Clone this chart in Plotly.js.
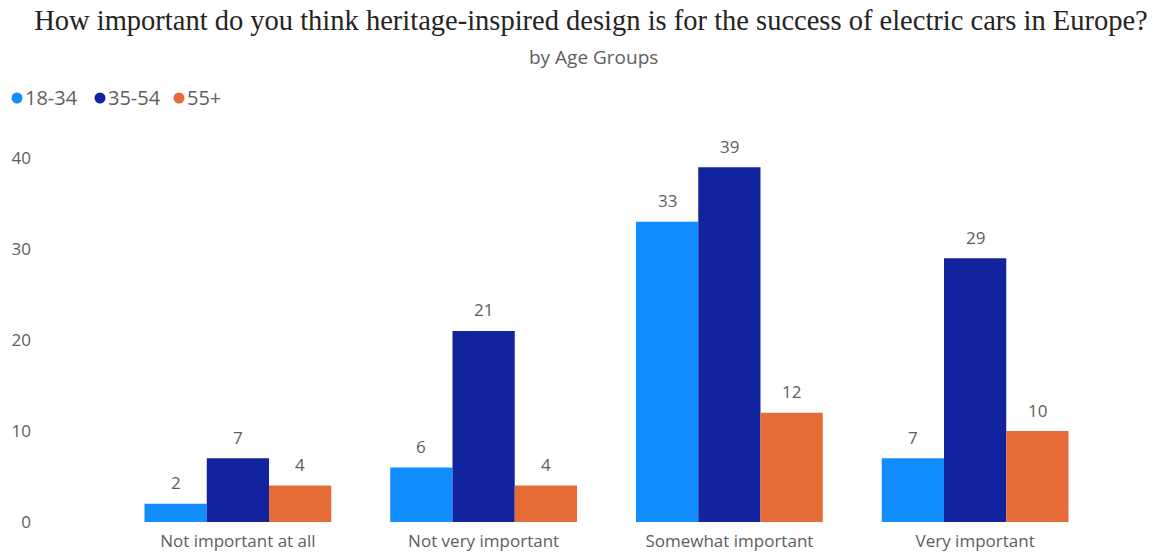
<!DOCTYPE html>
<html>
<head>
<meta charset="utf-8">
<script src="https://cdn.plot.ly/plotly-3.0.1.min.js"></script>
<style>html,body{margin:0;padding:0;background:#fff;}#chart{width:1155px;height:556px;}</style>
</head>
<body>
<div id="chart"></div>
<script>
const categories = ["Not important at all", "Not very important", "Somewhat important", "Very important"];
const seriesNames = ["18-34", "35-54", "55+"];
const values18_34 = [2, 6, 33, 7];
const values35_54 = [7, 21, 39, 29];
const values55plus = [4, 4, 12, 10];
const yTicks = [0, 10, 20, 30, 40];
const colors = ["#118DFF", "#12239E", "#E66C37"];

const allValues = [values18_34, values35_54, values55plus];

// layout geometry (pixels)
const W = 1155, H = 556;
const M = {l: 115, r: 57, t: 149, b: 34};
const plotW = W - M.l - M.r, plotH = H - M.t - M.b;
const bargap = 0.24;
const barPx = plotW / categories.length * (1 - bargap) / allValues.length;
const pxToPaperX = px => (px - M.l) / plotW;
const pxToPaperY = py => (H - M.b - py) / plotH;

const sans = "Open Sans, Noto Sans, sans-serif";
const grey = "#605E5C";

const traces = allValues.map((vals, i) => ({
  type: "bar",
  name: seriesNames[i],
  x: categories,
  y: vals,
  marker: {color: colors[i]},
  showlegend: false,
  hoverinfo: "x+y+name"
}));

const annotations = [];
// data labels above bars
allValues.forEach((vals, i) => {
  vals.forEach((v, j) => {
    annotations.push({
      x: categories[j], y: v, xref: "x", yref: "y",
      text: String(v), showarrow: false,
      xshift: (i - (allValues.length - 1) / 2) * barPx,
      yshift: 21, xanchor: "center", yanchor: "middle",
      font: {family: sans, size: 17, color: grey}
    });
  });
});
// subtitle
annotations.push({
  text: "by Age Groups",
  xref: "paper", yref: "paper",
  x: pxToPaperX(593.5), y: pxToPaperY(57),
  xanchor: "center", yanchor: "middle",
  showarrow: false,
  font: {family: sans, size: 19, color: grey}
});

// custom legend: circles + text
const legendCirclesX = [17, 100, 179];
const legendTextX = [23, 106, 185];
const legendY = 98;
const shapes = [];
seriesNames.forEach((n, i) => {
  shapes.push({
    type: "circle", xref: "paper", yref: "paper",
    xsizemode: "pixel", ysizemode: "pixel",
    xanchor: pxToPaperX(legendCirclesX[i]), yanchor: pxToPaperY(legendY),
    x0: -5.5, x1: 5.5, y0: -5.5, y1: 5.5,
    fillcolor: colors[i], line: {width: 0}
  });
  annotations.push({
    text: n, xref: "paper", yref: "paper",
    x: pxToPaperX(legendTextX[i]), y: pxToPaperY(legendY),
    xanchor: "left", yanchor: "middle", showarrow: false,
    font: {family: sans, size: 20, color: grey}
  });
});

const layout = {
  width: W,
  height: H,
  paper_bgcolor: "#ffffff",
  plot_bgcolor: "#ffffff",
  margin: M,
  barmode: "group",
  bargap: bargap,
  bargroupgap: 0,
  title: {
    text: "How important do you think heritage-inspired design is for the success of electric cars in Europe?",
    font: {family: "Liberation Serif, Times New Roman, serif", size: 28.5, color: "#252423"},
    xref: "container", yref: "container",
    x: 591 / W, xanchor: "center",
    y: 1 - 20 / H, yanchor: "middle"
  },
  annotations: annotations,
  shapes: shapes,
  showlegend: false,
  xaxis: {
    type: "category",
    tickfont: {family: sans, size: 17, color: grey},
    showgrid: false,
    zeroline: false,
    showline: false,
    ticks: "",
    ticklabelstandoff: 7,
    fixedrange: true
  },
  yaxis: {
    range: [0, 41],
    tickvals: yTicks,
    ticktext: yTicks.map(String),
    tickfont: {family: sans, size: 17, color: grey},
    showgrid: false,
    zeroline: false,
    showline: false,
    ticks: "",
    ticklabelstandoff: 83,
    fixedrange: true
  }
};

Plotly.newPlot("chart", traces, layout, {displayModeBar: false, staticPlot: true});
</script>
</body>
</html>
